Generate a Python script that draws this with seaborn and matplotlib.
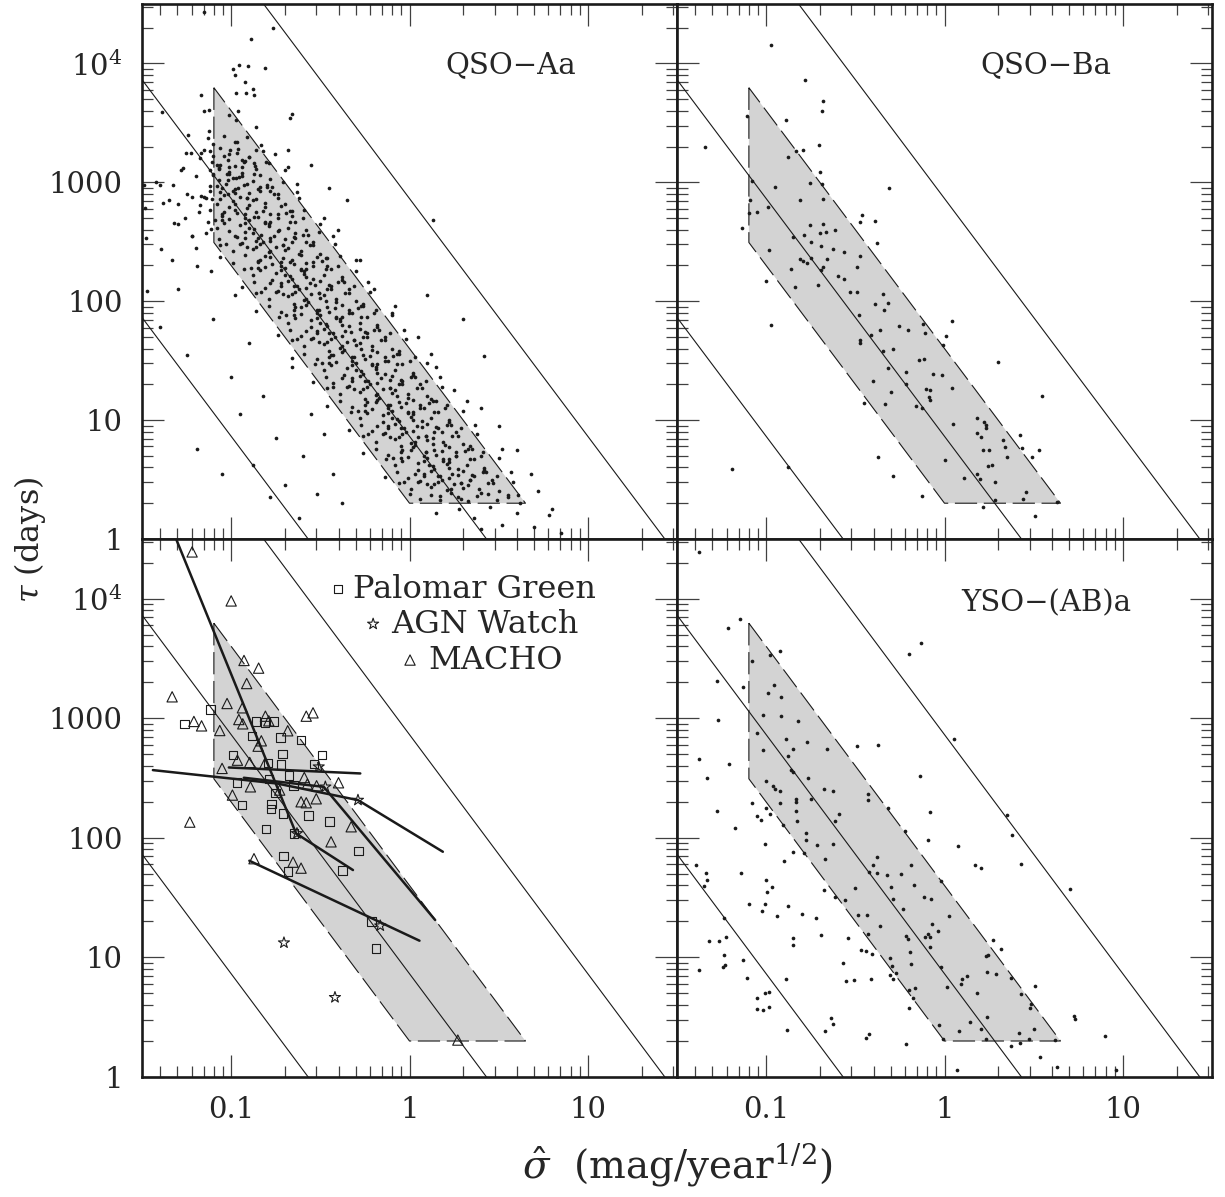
import numpy as np
import pandas as pd
import seaborn as sns
import matplotlib.pyplot as plt
from matplotlib.ticker import FixedLocator, FixedFormatter, LogLocator, NullFormatter

# ---- data (log10 sigma-hat [mag/yr^1/2], log10 tau [days]) ----
# QSO-Aa (top left), listed roughly row by row in tau
aa_log_sig = [
    -1.150, -0.890, -0.765, -0.808, -0.991, -0.958, -0.907, -0.980, -0.924, -0.875,
    -0.870, -0.971, -0.916, -1.170, -1.389, -1.152, -1.122, -0.961, -1.014, -0.972,
    -0.661, -0.672, -1.122, -0.859, -0.967, -1.006, -0.683, -0.756, -1.254, -1.228,
    -0.902, -0.928, -1.176, -1.269, -0.804, -1.070, -1.021, -0.972, -0.958, -0.864,
    -1.327, -1.489, -1.400, -0.799, -0.631, -1.167, -1.385, -1.299, -1.176, -1.482,
    -1.321, -1.113, -1.221, -1.475, -1.392, -1.113, -1.471,
    -1.13, -1.10, -1.04, -0.98, -0.91, -0.83,
    -1.15, -1.10, -1.06, -1.01, -0.96, -0.90, -0.82,
    -1.11, -1.07, -1.02, -0.98, -0.92, -0.86, -0.79, -0.68,
    -1.10, -1.07, -1.01, -0.99, -0.94, -0.88, -0.84, -0.78, -0.70,
    -1.12, -1.06, -1.03, -0.98, -0.93, -0.90, -0.84, -0.78, -0.71, -0.63,
    -1.14, -1.08, -1.04, -0.99, -0.95, -0.90, -0.86, -0.81, -0.76, -0.70, -0.62,
    -1.12, -1.05, -1.01, -0.97, -0.91, -0.87, -0.82, -0.78, -0.72, -0.66, -0.59, -0.48,
    -1.13, -1.08, -1.01, -0.95, -0.90, -0.87, -0.81, -0.79, -0.74, -0.68, -0.64, -0.58, -0.50,
    -1.14, -1.07, -1.01, -0.97, -0.92, -0.86, -0.83, -0.78, -0.73, -0.70, -0.64, -0.58, -0.51, -0.43,
    -1.06, -0.99, -0.94, -0.88, -0.84, -0.79, -0.75, -0.70, -0.66, -0.61, -0.56, -0.50, -0.42,
    -1.06, -0.99, -0.92, -0.85, -0.81, -0.77, -0.71, -0.67, -0.62, -0.58, -0.52, -0.46, -0.39, -0.28,
    -0.93, -0.88, -0.81, -0.75, -0.70, -0.67, -0.61, -0.59, -0.54, -0.48, -0.44, -0.38, -0.30,
    -0.94, -0.87, -0.81, -0.77, -0.72, -0.66, -0.63, -0.58, -0.53, -0.50, -0.44, -0.38, -0.31, -0.23,
    -0.86, -0.79, -0.74, -0.68, -0.64, -0.59, -0.55, -0.50, -0.46, -0.41, -0.36, -0.30, -0.22,
    -0.86, -0.79, -0.72, -0.65, -0.61, -0.57, -0.51, -0.47, -0.42, -0.38, -0.32, -0.26, -0.19, -0.08,
    -0.73, -0.68, -0.61, -0.55, -0.50, -0.47, -0.41, -0.39, -0.34, -0.28, -0.24, -0.18, -0.10,
    -0.74, -0.67, -0.61, -0.55, -0.52, -0.46, -0.43, -0.38, -0.33, -0.28, -0.24, -0.18, -0.11, -0.03,
    -0.66, -0.59, -0.54, -0.48, -0.44, -0.39, -0.35, -0.30, -0.26, -0.21, -0.16, -0.10, -0.02,
    -0.66, -0.59, -0.52, -0.45, -0.43, -0.37, -0.31, -0.27, -0.22, -0.18, -0.12, -0.06, 0.03, 0.12,
    -0.53, -0.48, -0.41, -0.35, -0.30, -0.27, -0.21, -0.19, -0.14, -0.08, -0.04, 0.02, 0.10,
    -0.54, -0.47, -0.43, -0.37, -0.32, -0.26, -0.23, -0.18, -0.11, -0.10, -0.04, 0.02, 0.09, 0.17,
    -0.46, -0.39, -0.34, -0.28, -0.24, -0.19, -0.15, -0.10, -0.06, -0.01, 0.04, 0.10, 0.18,
    -0.46, -0.39, -0.32, -0.25, -0.19, -0.17, -0.11, -0.07, -0.02, 0.02, 0.08, 0.12, 0.21, 0.32,
    -0.33, -0.28, -0.21, -0.15, -0.10, -0.07, -0.01, 0.01, 0.06, 0.12, 0.16, 0.22, 0.30,
    -0.34, -0.27, -0.21, -0.15, -0.12, -0.06, -0.03, 0.02, 0.07, 0.10, 0.18, 0.22, 0.29, 0.37,
    -0.26, -0.19, -0.14, -0.08, -0.04, 0.01, 0.05, 0.10, 0.14, 0.19, 0.24, 0.30, 0.38,
    -0.26, -0.19, -0.12, -0.05, 0.01, 0.03, 0.09, 0.13, 0.18, 0.22, 0.26, 0.34, 0.41, 0.52,
    -0.13, -0.08, -0.01, 0.05, 0.10, 0.13, 0.19, 0.21, 0.26, 0.32, 0.36, 0.42, 0.50,
    -0.14, -0.07, -0.01, 0.05, 0.08, 0.14, 0.17, 0.22, 0.27, 0.30, 0.34, 0.42, 0.49, 0.57,
    -0.06, 0.01, 0.06, 0.12, 0.16, 0.21, 0.25, 0.30, 0.34, 0.39, 0.44, 0.50, 0.58,
    0.00, 0.06, 0.12, 0.17, 0.23, 0.27, 0.33, 0.38, 0.44, 0.49, 0.55, 0.61,
    0.15, 0.28, 0.36, 0.45, 0.52, 0.60, 0.70, 0.78, 0.85, 0.40,
    -1.22, -1.12, -1.06, -0.98, -0.91, -0.85, -0.74,
    -1.09, -1.05, -0.92, -0.85, -0.78, -0.69, -0.60,
    -1.03, -0.92, -0.86, -0.78, -0.71, -0.65, -0.54,
    -0.89, -0.85, -0.72, -0.65, -0.58, -0.49, -0.40,
    -0.83, -0.72, -0.66, -0.58, -0.51, -0.45, -0.34,
    -0.69, -0.65, -0.52, -0.45, -0.38, -0.29, -0.20,
    -0.63, -0.52, -0.46, -0.38, -0.31, -0.25, -0.14,
    -0.49, -0.45, -0.32, -0.25, -0.18, -0.09, 0.00,
    -0.43, -0.32, -0.26, -0.18, -0.11, -0.05, 0.06,
    -0.29, -0.25, -0.12, -0.05, 0.02, 0.11, 0.20,
    -0.23, -0.12, -0.06, 0.02, 0.09, 0.15, 0.26,
    -0.09, -0.05, 0.08, 0.15, 0.22, 0.31, 0.40,
    -0.03, 0.08, 0.14, 0.22, 0.29, 0.35, 0.46,
    -1.25, -1.19, -1.00, -0.95, -0.88, -0.82, -0.75, -0.70, -0.66, -0.60,
    -0.55, -0.52, -0.48, -0.43, -0.38, -1.10, -1.30, -0.90, -0.78, -1.05,
    -0.62, -1.40, -0.98,
    -0.40, -0.30, -0.20, -0.10, 0.05, 0.15, 0.25, -0.35, 0.30, 0.40,
    0.50, 0.60, -0.55, -0.45, 0.10, 0.13, 0.42, 0.62, 0.72, 0.80, 0.68]
aa_log_tau = [
    4.429, 4.206, 4.298, 3.964, 3.955, 3.983, 3.977, 3.899, 3.844, 3.788,
    3.738, 3.754, 3.749, 3.732, 3.593, 3.601, 3.610, 3.601, 3.568, 3.526,
    3.573, 3.545, 3.434, 3.462, 3.342, 3.272, 3.272, 3.239, 3.247, 3.247,
    3.211, 3.169, 3.205, 3.119, 3.169, 3.113, 3.066, 3.038, 3.049, 3.141,
    2.974, 2.980, 2.974, 2.980, 2.988, 2.885, 2.829, 2.821, 2.807, 2.785,
    2.654, 2.606, 2.551, 2.528, 2.439, 2.255, 2.082,
    3.37, 3.32, 3.39, 3.34, 3.38, 3.31,
    3.27, 3.22, 3.29, 3.24, 3.28, 3.21, 3.26,
    3.17, 3.12, 3.19, 3.14, 3.18, 3.11, 3.16, 3.13,
    3.07, 3.02, 3.09, 3.04, 3.08, 3.01, 3.06, 3.03, 3.10,
    2.97, 2.92, 2.99, 2.94, 2.98, 2.91, 2.96, 2.93, 3.00, 2.92,
    2.87, 2.82, 2.89, 2.84, 2.88, 2.81, 2.86, 2.83, 2.90, 2.82, 2.87,
    2.77, 2.72, 2.79, 2.74, 2.78, 2.71, 2.76, 2.73, 2.80, 2.72, 2.77, 2.70,
    2.67, 2.62, 2.69, 2.64, 2.68, 2.61, 2.66, 2.63, 2.70, 2.62, 2.67, 2.60, 2.65,
    2.57, 2.52, 2.59, 2.54, 2.58, 2.51, 2.56, 2.53, 2.60, 2.52, 2.57, 2.50, 2.58, 2.55,
    2.47, 2.42, 2.49, 2.44, 2.48, 2.41, 2.46, 2.43, 2.50, 2.42, 2.47, 2.40, 2.48,
    2.37, 2.32, 2.39, 2.34, 2.38, 2.31, 2.36, 2.33, 2.40, 2.32, 2.37, 2.30, 2.38, 2.35,
    2.27, 2.22, 2.29, 2.24, 2.28, 2.21, 2.26, 2.23, 2.30, 2.22, 2.27, 2.20, 2.25,
    2.12, 2.16, 2.11, 2.18, 2.15, 2.19, 2.13, 2.20, 2.14, 2.17, 2.10, 2.18, 2.13, 2.16,
    2.07, 2.02, 2.09, 2.04, 2.08, 2.01, 2.06, 2.03, 2.10, 2.02, 2.07, 2.00, 2.08,
    1.92, 1.96, 1.91, 1.98, 1.95, 1.99, 1.93, 2.00, 1.94, 1.97, 1.90, 1.98, 1.93, 1.96,
    1.87, 1.82, 1.89, 1.84, 1.88, 1.81, 1.86, 1.83, 1.90, 1.82, 1.87, 1.80, 1.88,
    1.72, 1.76, 1.71, 1.78, 1.75, 1.79, 1.73, 1.80, 1.74, 1.77, 1.70, 1.78, 1.73, 1.76,
    1.67, 1.62, 1.69, 1.64, 1.68, 1.61, 1.66, 1.63, 1.70, 1.62, 1.67, 1.60, 1.68,
    1.52, 1.56, 1.51, 1.58, 1.55, 1.59, 1.53, 1.60, 1.54, 1.57, 1.50, 1.58, 1.53, 1.56,
    1.47, 1.42, 1.49, 1.44, 1.48, 1.41, 1.46, 1.43, 1.50, 1.42, 1.47, 1.40, 1.48,
    1.32, 1.36, 1.31, 1.38, 1.35, 1.39, 1.33, 1.40, 1.34, 1.37, 1.30, 1.38, 1.33, 1.36,
    1.27, 1.22, 1.29, 1.24, 1.28, 1.21, 1.26, 1.23, 1.30, 1.22, 1.27, 1.20, 1.28,
    1.12, 1.16, 1.11, 1.18, 1.15, 1.19, 1.13, 1.20, 1.14, 1.17, 1.10, 1.18, 1.13, 1.16,
    1.07, 1.02, 1.09, 1.04, 1.08, 1.01, 1.06, 1.03, 1.10, 1.02, 1.07, 1.00, 1.08,
    0.92, 0.96, 0.91, 0.98, 0.95, 0.99, 0.93, 1.00, 0.94, 0.97, 0.90, 0.98, 0.93, 0.96,
    0.87, 0.82, 0.89, 0.84, 0.88, 0.81, 0.86, 0.83, 0.90, 0.82, 0.87, 0.80, 0.88,
    0.72, 0.76, 0.71, 0.78, 0.75, 0.79, 0.73, 0.80, 0.74, 0.77, 0.70, 0.78, 0.73, 0.76,
    0.67, 0.62, 0.69, 0.64, 0.68, 0.61, 0.66, 0.63, 0.70, 0.62, 0.67, 0.60, 0.68,
    0.52, 0.56, 0.51, 0.58, 0.55, 0.59, 0.53, 0.60, 0.54, 0.57, 0.50, 0.58, 0.53, 0.56,
    0.47, 0.42, 0.49, 0.44, 0.48, 0.41, 0.46, 0.43, 0.50, 0.42, 0.47, 0.40, 0.48,
    0.38, 0.34, 0.37, 0.33, 0.39, 0.35, 0.32, 0.36, 0.38, 0.33, 0.35, 0.37,
    0.22, 0.25, 0.18, 0.27, 0.12, 0.22, 0.10, 0.20, 0.05, 0.08,
    2.88, 2.93, 2.86, 2.91, 2.87, 2.94, 2.90,
    2.68, 2.73, 2.66, 2.71, 2.67, 2.74, 2.70,
    2.48, 2.53, 2.46, 2.51, 2.47, 2.54, 2.50,
    2.28, 2.33, 2.26, 2.31, 2.27, 2.34, 2.30,
    2.08, 2.13, 2.06, 2.11, 2.07, 2.14, 2.10,
    1.88, 1.93, 1.86, 1.91, 1.87, 1.94, 1.90,
    1.68, 1.73, 1.66, 1.71, 1.67, 1.74, 1.70,
    1.48, 1.53, 1.46, 1.51, 1.47, 1.54, 1.50,
    1.28, 1.33, 1.26, 1.31, 1.27, 1.34, 1.30,
    1.08, 1.13, 1.06, 1.11, 1.07, 1.14, 1.10,
    0.88, 0.93, 0.86, 0.91, 0.87, 0.94, 0.90,
    0.68, 0.73, 0.66, 0.71, 0.67, 0.74, 0.70,
    0.48, 0.53, 0.46, 0.51, 0.47, 0.54, 0.50,
    1.55, 0.76, 1.36, 1.05, 0.62, 1.20, 0.85, 0.45, 1.45, 0.70,
    1.05, 0.38, 0.88, 0.55, 0.30, 1.85, 2.10, 1.65, 0.35, 0.55,
    0.18, 1.78, 2.05,
    2.60, 2.35, 2.10, 1.90, 1.70, 1.45, 1.25, 2.85, 1.85, 1.10,
    0.95, 0.75, 3.15, 2.95, 2.05, 2.68, 1.54, 0.30, 0.40, 0.25, 0.55]

# QSO-Aa, the denser core of the band (second pass)
aa_core_log_sig = [
    -1.12, -1.08, -1.04, -1.01, -0.97, -0.94, -0.86,
    -1.10, -1.05, -1.02, -0.99, -0.94, -0.91, -0.87, -0.80,
    -1.11, -1.04, -0.98, -0.92, -0.88, -0.81, -0.74, -0.66,
    -1.04, -0.98, -0.90, -0.85, -0.79, -0.74, -0.67, -0.60,
    -0.91, -0.84, -0.78, -0.72, -0.68, -0.61, -0.54, -0.46,
    -0.84, -0.78, -0.70, -0.65, -0.59, -0.54, -0.47, -0.40,
    -0.71, -0.64, -0.58, -0.52, -0.48, -0.41, -0.34, -0.26,
    -0.64, -0.58, -0.50, -0.45, -0.39, -0.34, -0.27, -0.20,
    -0.51, -0.44, -0.38, -0.32, -0.28, -0.21, -0.14, -0.06,
    -0.44, -0.38, -0.30, -0.25, -0.19, -0.14, -0.07, 0.01,
    -0.31, -0.24, -0.18, -0.12, -0.08, -0.01, 0.07, 0.15,
    -0.24, -0.18, -0.10, -0.05, 0.02, 0.07, 0.14, 0.21,
    -0.11, -0.04, 0.03, 0.09, 0.13, 0.20, 0.27, 0.35,
    -0.04, 0.03, 0.11, 0.16, 0.22, 0.27, 0.34, 0.41,
    0.10, 0.17, 0.23, 0.29, 0.33, 0.40, 0.47, 0.55,
    -1.12, -1.06, -1.01, -0.94, -0.87,
    -1.15, -1.08, -1.02, -0.96, -0.91, -0.84, -0.77,
    -1.05, -0.98, -0.92, -0.86, -0.81, -0.74, -0.67,
    -0.95, -0.88, -0.82, -0.76, -0.71, -0.64, -0.57,
    -0.85, -0.78, -0.72, -0.66, -0.61, -0.54, -0.47,
    -0.75, -0.68, -0.62, -0.56, -0.51, -0.44, -0.37,
    -0.65, -0.58, -0.52, -0.46, -0.41, -0.34, -0.27,
    -0.55, -0.48, -0.42, -0.36, -0.31, -0.24, -0.17,
    -0.45, -0.38, -0.32, -0.26, -0.21, -0.14, -0.07,
    -0.35, -0.28, -0.22, -0.16, -0.11, -0.04, 0.03,
    -0.25, -0.18, -0.12, -0.06, -0.01, 0.06, 0.13,
    -0.15, -0.08, -0.02, 0.04, 0.09, 0.16, 0.23,
    -0.05, 0.02, 0.08, 0.14, 0.19, 0.26, 0.33,
    0.05, 0.12, 0.18, 0.24, 0.29, 0.36, 0.43,
    -1.20, -1.25, -1.18, -1.30, -1.22, -1.35, -1.17, -1.24, -1.20, -1.28,
    -1.33, -1.19, -1.42, -1.26]
aa_core_log_tau = [
    3.26, 3.15, 3.22, 3.13, 3.25, 3.19, 3.27,
    3.06, 2.95, 3.02, 2.93, 3.05, 2.99, 3.07, 2.96,
    2.86, 2.75, 2.82, 2.73, 2.85, 2.79, 2.87, 2.76,
    2.66, 2.55, 2.62, 2.53, 2.65, 2.59, 2.67, 2.56,
    2.46, 2.35, 2.42, 2.33, 2.45, 2.39, 2.47, 2.36,
    2.26, 2.15, 2.22, 2.13, 2.25, 2.19, 2.27, 2.16,
    2.06, 1.95, 2.02, 1.93, 2.05, 1.99, 2.07, 1.96,
    1.86, 1.75, 1.82, 1.73, 1.85, 1.79, 1.87, 1.76,
    1.66, 1.55, 1.62, 1.53, 1.65, 1.59, 1.67, 1.56,
    1.46, 1.35, 1.42, 1.33, 1.45, 1.39, 1.47, 1.36,
    1.26, 1.15, 1.22, 1.13, 1.25, 1.19, 1.27, 1.16,
    1.06, 0.95, 1.02, 0.93, 1.05, 0.99, 1.07, 0.96,
    0.86, 0.75, 0.82, 0.73, 0.85, 0.79, 0.87, 0.76,
    0.66, 0.55, 0.62, 0.53, 0.65, 0.59, 0.67, 0.56,
    0.46, 0.36, 0.42, 0.34, 0.45, 0.39, 0.47, 0.37,
    3.10, 3.15, 3.07, 3.13, 3.16,
    2.88, 2.97, 2.90, 2.95, 2.87, 2.93, 2.96,
    2.68, 2.77, 2.70, 2.75, 2.67, 2.73, 2.76,
    2.48, 2.57, 2.50, 2.55, 2.47, 2.53, 2.56,
    2.28, 2.37, 2.30, 2.35, 2.27, 2.33, 2.36,
    2.08, 2.17, 2.10, 2.15, 2.07, 2.13, 2.16,
    1.88, 1.97, 1.90, 1.95, 1.87, 1.93, 1.96,
    1.68, 1.77, 1.70, 1.75, 1.67, 1.73, 1.76,
    1.48, 1.57, 1.50, 1.55, 1.47, 1.53, 1.56,
    1.28, 1.37, 1.30, 1.35, 1.27, 1.33, 1.36,
    1.08, 1.17, 1.10, 1.15, 1.07, 1.13, 1.16,
    0.88, 0.97, 0.90, 0.95, 0.87, 0.93, 0.96,
    0.68, 0.77, 0.70, 0.75, 0.67, 0.73, 0.76,
    0.48, 0.57, 0.50, 0.55, 0.47, 0.53, 0.56,
    3.05, 2.90, 2.75, 2.65, 2.55, 2.85, 3.25, 3.40, 2.45, 3.10,
    2.35, 2.30, 3.00, 2.70]

# QSO-Ba (top right)
ba_log_sig = [-0.972, -0.783, -0.682, -0.685, -1.110, -0.891, -1.345, -0.835, -0.796, -0.702,
              -0.876, -0.699, -1.077, -0.755, -0.685, -0.949, -0.309, -1.088, -0.813, -0.682,
              -1.099, -1.049, -0.987, -0.463, -0.474, -0.390, -1.133, -0.753, -0.682, -0.612,
              -0.787, -0.700, -0.667, -0.848, -0.380, -0.747, -0.695, -0.985, -0.625, -0.566,
              -0.472, -0.813, -0.792, -0.773, -0.747, -0.657, -0.493, -0.861, -0.695, -0.682,
              -1.002, -0.841, -0.712, -0.596, -0.564, -0.528, -0.493, -0.343, -0.391, -0.318,
              -0.339, -0.481, -0.972, -0.255, -0.120, -0.363, -0.206, -0.109, -0.410, 0.011,
              -0.476, -0.476, -0.011, -0.343, -0.287, -0.144, -0.116, -0.317, -0.215, -0.066,
              -0.015, -0.401, -0.215, -0.103, -0.082, -0.301, -0.088, -0.079, -0.451, -0.331,
              -0.161, -0.125, -0.373, 0.004, -0.288, -0.125, -1.191, -0.876,
              0.043, 0.298, 0.043, 0.545, 0.049, 0.182, 0.222, 0.232, 0.232, 0.182,
              0.203, 0.425, 0.329, 0.338, 0.435, 0.531, 0.217, 0.251, 0.352, 0.491,
              0.246, 0.265, 0.107, 0.182, 0.197, 0.284, 0.458, 0.284, 0.439, 0.632,
              0.217, 0.510]
ba_log_tau = [4.153, 3.863, 3.687, 3.598, 3.562, 3.528, 3.297, 3.263, 3.269, 3.311,
              3.216, 3.090, 3.012, 2.998, 2.990, 2.959, 2.956, 2.850, 2.848, 2.864,
              2.744, 2.750, 2.789, 2.725, 2.669, 2.675, 2.613, 2.638, 2.647, 2.602,
              2.560, 2.571, 2.580, 2.543, 2.490, 2.496, 2.468, 2.429, 2.440, 2.412,
              2.379, 2.357, 2.340, 2.323, 2.362, 2.359, 2.292, 2.273, 2.265, 2.287,
              2.173, 2.117, 2.139, 2.212, 2.190, 2.078, 2.081, 2.059, 1.978, 1.983,
              1.930, 1.888, 1.796, 1.788, 1.805, 1.757, 1.755, 1.735, 1.718, 1.707,
              1.676, 1.649, 1.629, 1.584, 1.596, 1.503, 1.517, 1.442, 1.403, 1.386,
              1.378, 1.331, 1.303, 1.264, 1.252, 1.238, 1.191, 1.169, 1.141, 1.135,
              1.121, 1.099, 0.689, 0.667, 0.530, 0.360, 0.589, 0.603,
              1.836, 1.490, 1.274, 1.204, 0.968, 1.020, 0.985, 0.962, 0.934, 0.890,
              0.862, 0.876, 0.833, 0.775, 0.766, 0.746, 0.746, 0.746, 0.689, 0.689,
              0.617, 0.625, 0.516, 0.544, 0.501, 0.481, 0.394, 0.328, 0.337, 0.314,
              0.271, 0.190]

# YSO-(AB)a (bottom right)
yso_log_sig = [-1.375, -1.146, -1.213, -0.133, -0.200, -0.923, -0.979, -1.077, -1.273, -0.957,
               -1.131, -0.987, -0.919, -1.019, -0.918, -1.272, -0.822, -1.051, -0.888, -0.772,
               -0.375, -0.489, -1.015, -0.852, -0.661, -0.876, -1.375, -1.206, -0.863, -0.848,
               -0.137, -1.333, -1.002, -0.768, -0.964, -0.953, -0.923, -0.674, -0.624, -0.427,
               -0.427, -0.830, -0.831, -0.747, -1.081, -0.923, -1.002, -0.316,
               -1.273, -1.052, -1.028, -0.978, -0.833, -0.590, -0.614, -0.826, -0.903, -0.081,
               -1.172, -0.221, -0.779, -0.779, -0.090, -1.008, -0.717, -0.627, -0.850, -0.787,
               -0.376, -0.670, -0.899, -1.393, -0.399, -0.189, -0.423, -0.380, -1.339, -1.140,
               -0.322, -0.242, -0.017, -1.333, -1.002, -1.350, -0.970, -0.172, -0.502, -0.301,
               -0.678, -0.998, -0.290, -0.612, -0.558, -0.116, -0.073, -1.097, -1.008, -0.876,
               -1.021, -0.232, -0.487, -0.436, -0.798, -0.938, -0.721, -1.234, -0.361, -0.069,
               -0.039, -0.427, -0.691, -0.215, -0.204, -0.112, -0.092, -0.081, -0.541, -0.852,
               -0.852, -1.318, -1.266, -1.225, -0.082, -0.466, -0.438, -0.406, -0.193, -0.307,
               -1.234, -1.232, -1.240, -1.129, -1.378, -0.569, -0.021, -0.296, -0.270, -0.307,
               -0.288, -0.410, -0.508, -0.551, -0.886, -1.107, -0.189, -0.197, -0.167, -0.174,
               -1.006, -0.983, -1.054, -1.051, -1.017, -0.983, -0.197, -0.639, -0.625, -0.882,
               -0.672, -0.442, -0.423, -0.032, -0.009, -0.215,
               0.053, 0.352, 0.381, 0.078, 0.172, 0.203, 0.429, 0.705, 0.028, 0.271,
               0.317, 0.230, 0.246, 0.236, 0.288, 0.375, 0.506, 0.124, 0.097, 0.091,
               0.014, 0.184, 0.429, 0.483, 0.477, 0.236, 0.145, 0.724, 0.734, 0.082,
               0.207, 0.419, 0.500, 0.472, 0.425, 0.375, 0.622, 0.898, 0.230, 0.535,
               0.632, 0.960, 0.072]
yso_log_tau = [4.391, 3.833, 3.758, 3.629, 3.540, 3.562, 3.532, 3.476, 3.309, 3.278,
               3.261, 3.208, 3.180, 3.032, 3.016, 2.988, 2.974, 2.876, 2.829, 2.798,
               2.779, 2.765, 2.734, 2.745, 2.742, 2.689, 2.656, 2.614, 2.564, 2.547,
               2.519, 2.497, 2.480, 2.500, 2.430, 2.413, 2.394, 2.413, 2.396, 2.366,
               2.318, 2.329, 2.302, 2.324, 2.293, 2.296, 2.251, 2.248,
               2.226, 2.187, 2.153, 2.198, 2.223, 2.201, 2.139, 2.139, 2.108, 2.217,
               2.081, 2.058, 2.044, 1.986, 1.983, 1.949, 1.944, 1.949, 1.880, 1.877,
               1.843, 1.824, 1.807, 1.777, 1.774, 1.771, 1.715, 1.704, 1.704, 1.704,
               1.687, 1.698, 1.640, 1.645, 1.651, 1.598, 1.592, 1.606, 1.584, 1.587,
               1.565, 1.545, 1.492, 1.503, 1.478, 1.506, 1.489, 1.447, 1.445, 1.433,
               1.389, 1.403, 1.353, 1.353, 1.367, 1.344, 1.328, 1.330, 1.266, 1.283,
               1.224, 1.194, 1.188, 1.177, 1.152, 1.168, 1.194, 1.174, 1.163, 1.166,
               1.107, 1.135, 1.135, 1.171, 1.085, 1.060, 1.054, 1.029, 1.046, 0.998,
               1.023, 0.934, 0.920, 0.979, 0.895, 0.951, 0.923, 0.931, 0.873, 0.850,
               0.817, 0.823, 0.809, 0.800, 0.823, 0.828, 0.943, 0.725, 0.742, 0.664,
               0.705, 0.714, 0.658, 0.569, 0.560, 0.583, 0.574, 0.491, 0.446, 0.393,
               0.385, 0.329, 0.362, 0.438, 0.318, 0.273,
               2.824, 2.193, 2.026, 1.934, 1.772, 1.744, 1.781, 1.574, 1.343, 1.147,
               1.069, 1.012, 1.023, 0.879, 0.859, 0.824, 0.758, 0.844, 0.821, 0.781,
               0.752, 0.706, 0.692, 0.614, 0.579, 0.504, 0.464, 0.513, 0.484, 0.383,
               0.398, 0.369, 0.398, 0.320, 0.282, 0.262, 0.306, 0.340, 0.317, 0.167,
               0.087, 0.061, 0.061]

# bottom-left: observed samples
pg_log_sig = [-1.116, -1.262, -0.862, -0.810, -0.761, -0.883, -0.724, -0.607, -0.991, -0.713,
              -0.491, -0.795, -0.720, -0.534, -0.967, -0.677, -0.789, -0.650, -0.752, -0.941,
              -0.773, -0.778, -0.709, -0.566, -0.448, -0.806, -0.648, -0.286, -0.706, -0.375,
              -0.683, -0.213, -0.188]
pg_log_tau = [3.074, 2.951, 2.974, 2.965, 2.974, 2.854, 2.840, 2.818, 2.695, 2.703,
              2.692, 2.628, 2.614, 2.620, 2.464, 2.522, 2.494, 2.438, 2.377, 2.274,
              2.282, 2.243, 2.204, 2.188, 2.137, 2.076, 2.037, 1.889, 1.848, 1.728,
              1.720, 1.301, 1.076]
agn_log_sig = [-0.509, -0.472, -0.289, -0.631, -0.164, -0.704, -0.418]
agn_log_tau = [2.595, 2.427, 2.316, 2.037, 1.265, 1.123, 0.666]
macho_log_sig = [-1.219, -1.000, -0.928, -0.846, -0.913, -1.331, -1.023, -0.937, -1.209, -1.166,
                 -1.064, -0.957, -0.935, -0.808, -0.789, -0.579, -0.541, -0.683, -0.831, -0.849,
                 -0.965, -0.896, -1.051, -0.812, -0.590, -0.573, -0.521, -0.398, -0.892, -0.728,
                 -0.993, -0.523, -0.608, -0.579, -1.232, -0.327, -0.440, -0.872, -0.653, -0.608,
                 0.271]
macho_log_tau = [4.392, 3.982, 3.484, 3.420, 3.291, 3.180, 3.124, 3.088, 2.974, 2.937,
                 2.898, 2.990, 2.954, 3.018, 2.979, 3.018, 3.046, 2.896, 2.812, 2.767,
                 2.650, 2.631, 2.581, 2.620, 2.505, 2.450, 2.436, 2.461, 2.427, 2.400,
                 2.358, 2.327, 2.302, 2.294, 2.132, 2.093, 1.967, 1.826, 1.797, 1.747,
                 0.309]

# multi-epoch tracks (bold lines)
track_id = [1, 1, 1, 2, 2, 2, 2, 3, 3, 4, 4, 4, 5, 5]
track_log_sig = [-1.306, -0.636, -0.317, -1.439, -0.743, -0.289, 0.187,
                 -1.013, -0.276, -0.929, -0.481, 0.144, -0.898, 0.056]
track_log_tau = [4.490, 2.037, 1.731, 2.567, 2.455, 2.316, 1.884,
                 2.589, 2.539, 2.503, 2.427, 1.313, 1.809, 1.140]

# allowed region (shaded) and SF_inf reference lines
region_sig = [0.08, 0.08, 1.0, 4.47, 0.08]
region_tau = [6250, 312, 2, 2, 6250]
sf_levels = [0.01, 0.1, 1.0]  # mag
panel_names = ["QSO\u2212Aa", "QSO\u2212Ba", "", "YSO\u2212(AB)a"]

sns.set_theme(style="ticks")
plt.rcParams["font.family"] = ["DejaVu Serif"]
plt.rcParams["mathtext.fontset"] = "dejavuserif"

fig = plt.figure(figsize=(12.25, 11.97), dpi=100)
W, H = 1225, 1197
boxes = [(142, 4, 677, 539), (677, 4, 1212, 539),
         (142, 539, 677, 1077), (677, 539, 1212, 1077)]
axes = []
for (x0, y0, x1, y1) in boxes:
    axes.append(fig.add_axes([x0 / W, 1 - y1 / H, (x1 - x0) / W, (y1 - y0) / H]))

xlo, xhi = 10 ** -1.5, 10 ** 1.5
sig_line = np.array([xlo, xhi])


def decorate(ax, i):
    ax.fill(region_sig, region_tau, color="#d3d3d3", lw=0, zorder=0)
    ax.plot(region_sig, region_tau, color="k", lw=0.8, ls=(0, (20, 6)), zorder=1)
    for sf in sf_levels:
        c = 2 * 365.25 * sf ** 2
        sns.lineplot(x=sig_line, y=c / sig_line ** 2, ax=ax, color="k", lw=0.8, zorder=2)
    ax.set_xscale("log")
    ax.set_yscale("log")
    ax.set_xlim(xlo, xhi)
    ax.set_ylim(1, 10 ** 4.5)
    ax.yaxis.set_major_locator(FixedLocator([1, 10, 100, 1000, 1e4]))
    ax.yaxis.set_major_formatter(FixedFormatter(["1", "10", "100", "1000", r"$10^4$"]))
    ax.yaxis.set_minor_locator(LogLocator(base=10, subs=np.arange(2, 10), numticks=20))
    ax.xaxis.set_major_locator(FixedLocator([0.1, 1, 10]))
    ax.xaxis.set_major_formatter(FixedFormatter(["0.1", "1", "10"]))
    ax.xaxis.set_minor_locator(LogLocator(base=10, subs=np.arange(2, 10), numticks=20))
    ax.xaxis.set_minor_formatter(NullFormatter())
    ax.yaxis.set_minor_formatter(NullFormatter())
    ax.tick_params(which="both", direction="in", top=True, right=True,
                   width=0.9, color="0.25", labelsize=21)
    ax.tick_params(which="major", length=16)
    ax.tick_params(which="minor", length=8)
    ax.tick_params(axis="x", pad=14)
    ax.tick_params(axis="y", pad=14)
    if i < 2:
        ax.tick_params(axis="x", labelbottom=False)
    if i % 2 == 1:
        ax.tick_params(axis="y", labelleft=False)
    for sp in ax.spines.values():
        sp.set_linewidth(1.9)
        sp.set_color("k")
    ax.set_xlabel("")
    ax.set_ylabel("")
    if panel_names[i]:
        ax.text(0.69, 0.886 if i < 2 else 0.881, panel_names[i], transform=ax.transAxes,
                ha="center", va="center", fontsize=21)


dot_sets = {0: (aa_log_sig + aa_core_log_sig, aa_log_tau + aa_core_log_tau),
            1: (ba_log_sig, ba_log_tau), 3: (yso_log_sig, yso_log_tau)}
for i, ax in enumerate(axes):
    if i in dot_sets:
        ls, lt = dot_sets[i]
        sns.scatterplot(x=10 ** np.array(ls), y=10 ** np.array(lt), ax=ax, color="k",
                        s=7, linewidth=0, zorder=3, legend=False)
    decorate(ax, i)

# bottom-left panel: samples + tracks
ax = axes[2]
tracks = pd.DataFrame({"id": track_id, "sig": 10 ** np.array(track_log_sig),
                       "tau": 10 ** np.array(track_log_tau)})
sns.lineplot(data=tracks, x="sig", y="tau", units="id", estimator=None, sort=False,
             ax=ax, color="k", lw=1.8, zorder=4)
mk = dict(facecolor="none", edgecolor="k", linewidth=0.8, zorder=5, legend=False)
sns.scatterplot(x=10 ** np.array(pg_log_sig), y=10 ** np.array(pg_log_tau), ax=ax, marker="s", s=36, **mk)
sns.scatterplot(x=10 ** np.array(agn_log_sig), y=10 ** np.array(agn_log_tau), ax=ax, marker="*", s=70, **mk)
sns.scatterplot(x=10 ** np.array(macho_log_sig), y=10 ** np.array(macho_log_tau), ax=ax, marker="^", s=55, **mk)
ax.set_xlabel("")
ax.set_ylabel("")

# legend drawn as text lines with symbols
leg = [("s", 36, 0.366, 0.395, 0.907, "Palomar Green"),
       ("*", 70, 0.432, 0.466, 0.842, "AGN Watch"),
       ("^", 55, 0.501, 0.535, 0.775, "MACHO")]
for m, s, xm, xt, y, lab in leg:
    ax.scatter([xm], [y], marker=m, s=s, facecolor="none", edgecolor="k", linewidth=0.8,
               transform=ax.transAxes, zorder=6)
    ax.text(xt, y, lab, transform=ax.transAxes, ha="left", va="center", fontsize=23)

fig.text(30 / W, 1 - 540 / H, r"$\tau$ (days)", rotation=90, ha="center", va="center", fontsize=23)
fig.text(677 / W, 1 - 1165 / H, r"$\hat{\sigma}$  (mag/year$^{1/2}$)", ha="center", va="center", fontsize=28)

fig.savefig("out.png", dpi=100)
